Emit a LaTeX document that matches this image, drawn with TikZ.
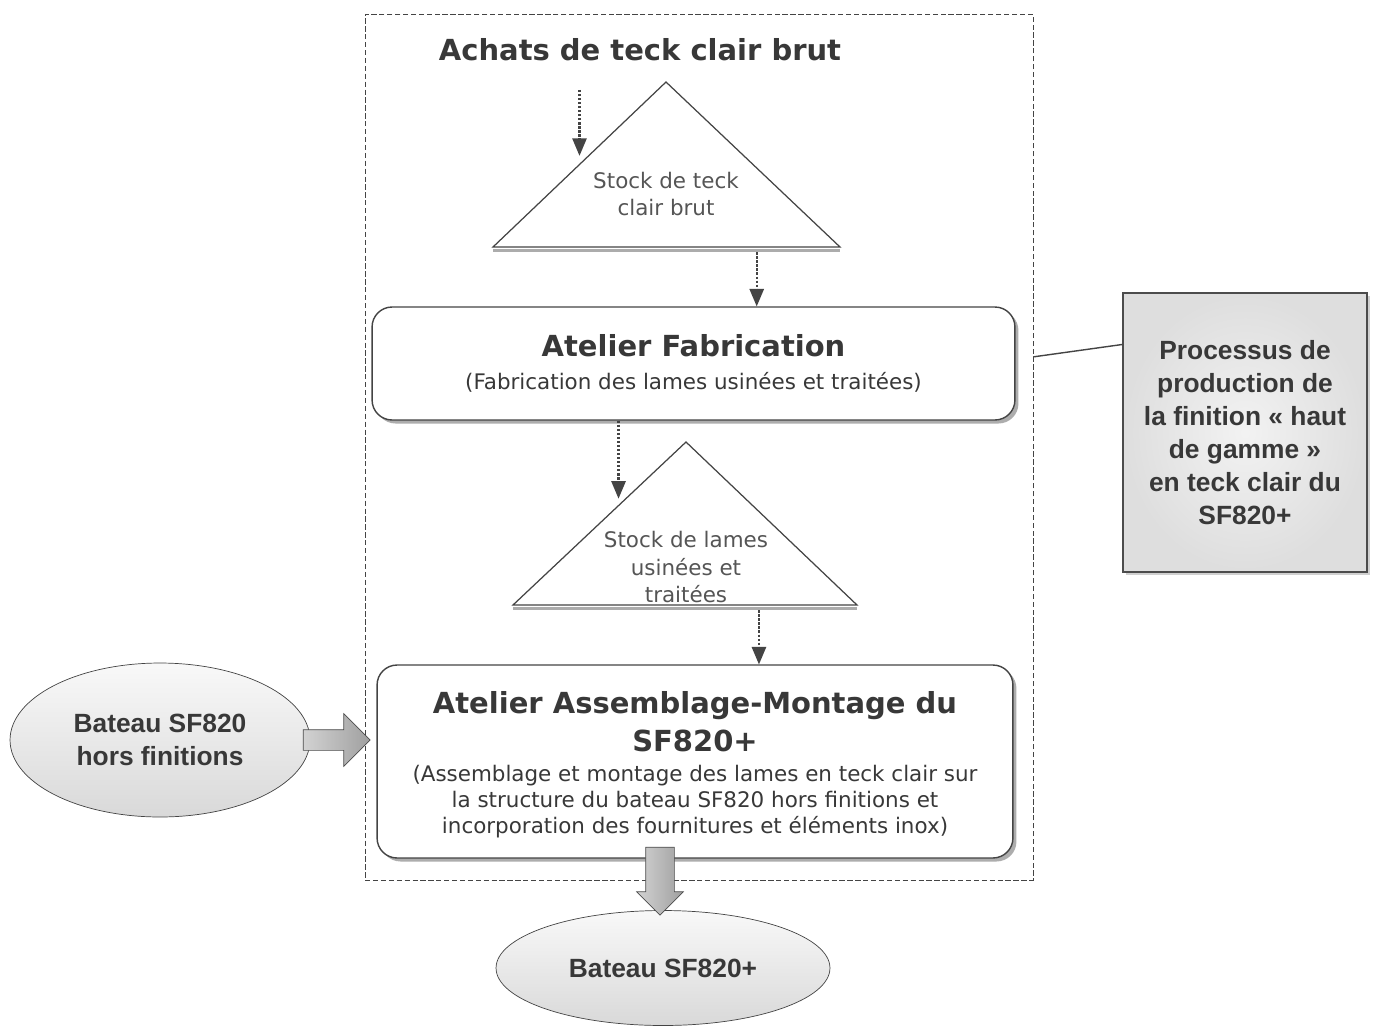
\documentclass[tikz,border=0pt]{standalone}
\usepackage{fontspec}
\setmainfont{DejaVu Sans}
\newfontfamily\arialfont{Liberation Sans}
\usetikzlibrary{shapes, arrows, shadows, calc}
\definecolor{textgray}{HTML}{383838}
\definecolor{bodygray}{HTML}{555555}
\definecolor{edgegray}{HTML}{444444}
\newcommand{\titleFont}{\bfseries\fontsize{16.5}{21.5}\selectfont}
\newcommand{\bodyFont}{\fontsize{12.2}{14.8}\selectfont}
\newcommand{\arialBold}{\arialfont\bfseries\fontsize{15}{18.8}\selectfont}
\tikzstyle{atelier} = [rectangle, rounded corners=0.4cm, draw=edgegray, thick, fill=white, align=center, text=textgray, font=\bodyFont, drop shadow={shadow xshift=2pt, shadow yshift=-2pt, fill=gray!80, opacity=0.8}]
\tikzstyle{stock} = [align=center, text=bodygray, font=\fontsize{12.2}{15.8}\selectfont, inner sep=0pt]
\tikzstyle{bateau} = [ellipse, draw=edgegray, top color=gray!5, bottom color=gray!30, inner sep=0pt, align=center, text=textgray, font=\arialBold]
\tikzstyle{bigarrow} = [single arrow, draw=gray!60!black, left color=gray!35, right color=gray!75, inner xsep=0pt, single arrow tip angle=90]
\tikzstyle{dotarrow} = [line width=1.3pt, dash pattern=on 1.3pt off 1pt, -triangle 45, draw=edgegray]
\tikzstyle{stockshadow} = [gray!65, line width=2pt]
\tikzstyle{stockedge} = [draw=edgegray, line width=0.7pt, fill=white]

\begin{document}
\begin{tikzpicture}[x=0.02cm, y=-0.02cm]
\fill[white] (0,0) rectangle (1376,1025);
\useasboundingbox (0,0) rectangle (1376,1025);

% perimetre du processus
\node[draw=edgegray, dash pattern=on 3pt off 1.5pt, minimum width=13.36cm, minimum height=17.32cm] (perimetre) at (699,447) {};
\node[font=\titleFont, text=textgray] (achats) at (640,50) {Achats de teck clair brut};

% stock de teck brut
\coordinate (t1a) at (666,82);
\coordinate (t1l) at (493,247);
\coordinate (t1r) at (840,247);
\draw[stockshadow] ([yshift=-2pt]t1l) -- ([yshift=-2pt]t1r);
\draw[stockedge] (t1a) -- (t1l) -- (t1r) -- cycle;
\node[stock] (stockbrut) at (666,194) {Stock de teck\\clair brut};

\node[atelier, minimum width=12.86cm, minimum height=2.26cm] (fabrication) at (693.5,363.5)
  {{\titleFont Atelier Fabrication}\\[4pt](Fabrication des lames usinées et traitées)};

% stock de lames
\coordinate (t2a) at (686,442);
\coordinate (t2l) at (513,605);
\coordinate (t2r) at (857,605);
\draw[stockshadow] ([yshift=-2pt]t2l) -- ([yshift=-2pt]t2r);
\draw[stockedge] (t2a) -- (t2l) -- (t2r) -- cycle;
\node[stock] (stocklames) at (686,567) {Stock de lames\\usinées et\\traitées};

\node[atelier, minimum width=12.72cm, minimum height=3.86cm] (assemblage) at (695,761.5)
  {\rule{0pt}{16pt}{\titleFont Atelier Assemblage-Montage du}\\[4.6pt]{\titleFont SF820+}\\[2.3pt](Assemblage et montage des lames en teck clair sur\\la structure du bateau SF820 hors finitions et\\incorporation des fournitures et éléments inox)};

% flux
\coordinate (e1) at ($(t1a)!0.5!(t1l)$);
\coordinate (b1) at ($(t1l)!0.76!(t1r)$);
\coordinate (e2) at ($(t2a)!0.39!(t2l)$);
\coordinate (b2) at ($(t2l)!0.715!(t2r)$);
\draw[dotarrow] ($(achats.south -| e1)+(0,-0.45cm)$) -- ([yshift=5pt]e1);
\draw[dotarrow] ([yshift=-3pt]b1) -- (fabrication.north -| b1);
\draw[dotarrow] (fabrication.south -| e2) -- ([yshift=4pt]e2);
\draw[dotarrow] ([yshift=-3pt]b2) -- (assemblage.north -| b2);

% bateaux
\node[bateau, minimum width=6cm, minimum height=3.08cm] (horsfinitions) at (160,740) {Bateau SF820\\hors finitions};
\node[bateau, minimum width=6.68cm, minimum height=2.3cm] (sf820plus) at (663,968) {Bateau SF820+};
\node[bigarrow, minimum height=1.34cm, inner ysep=0.2cm, single arrow head extend=0.32cm] (entree) at (331.5,740) {};
\node[bigarrow, rotate=-90, minimum height=1.36cm, inner ysep=0.28cm, single arrow head extend=0.18cm] (sortie) at (660,874) {};

% legende
\node[draw=gray!60!black, thick, inner color=gray!10, outer color=gray!26, minimum width=4.88cm, minimum height=5.58cm, align=center, text=textgray, font=\arialBold, drop shadow={shadow xshift=1.5pt, shadow yshift=-1.5pt, fill=gray!60, opacity=0.6}] (processus) at (1245,432.5)
  {Processus de\\production de\\la finition « haut\\de gamme »\\en teck clair du\\SF820+};
\draw[edgegray, thick] ($(perimetre.north east)!0.396!(perimetre.south east)$) -- ($(processus.north west)!0.186!(processus.south west)$);
\end{tikzpicture}
\end{document}
